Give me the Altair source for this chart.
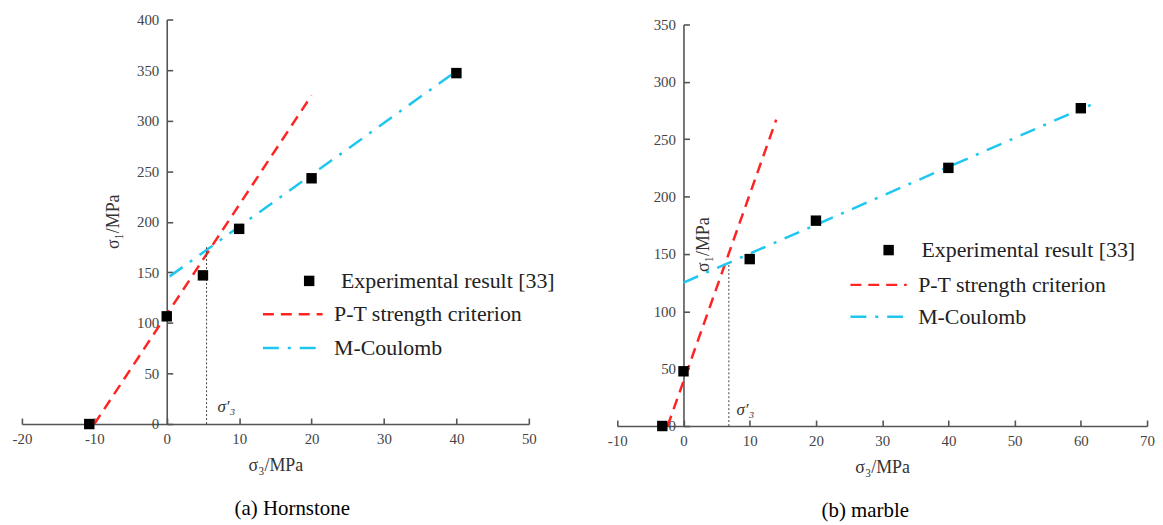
import altair as alt
import pandas as pd

SERIES = ["Experimental result [33]", "P-T strength criterion", "M-Coulomb"]
COLORS = ["#000000", "#ff2424", "#1fc6f0"]

# (a) Hornstone
a_exp_x = [-10.7, 0, 5, 10, 20, 40]
a_exp_y = [0, 106.5, 147, 193, 243, 347]
a_pt_x = [-10, 20]
a_pt_y = [0, 325]
a_mc_x = [0.4, 40]
a_mc_y = [146, 349]
a_cross_x = [5.5, 5.5]
a_cross_y = [0, 175]
a_note_x = [7.0]
a_note_y = [17]
a_xticks = [-20, -10, 0, 10, 20, 30, 40, 50]
a_yticks = [0, 50, 100, 150, 200, 250, 300, 350, 400]

# (b) marble
b_exp_x = [-3.2, 0, 10, 20, 40, 60]
b_exp_y = [0, 47.7, 145.5, 179, 225, 277]
b_pt_x = [-2.4, 14]
b_pt_y = [0, 267]
b_mc_x = [0, 61.5]
b_mc_y = [125, 280]
b_cross_x = [6.85, 6.85]
b_cross_y = [0, 141]
b_note_x = [8.0]
b_note_y = [14]
b_xticks = [-10, 0, 10, 20, 30, 40, 50, 60, 70]
b_yticks = [0, 50, 100, 150, 200, 250, 300, 350]

FONT = "Liberation Serif, Times New Roman, serif"
PT_DASH = [11, 7]
MC_DASH = [16, 9, 3, 9]
LINE_SYMBOL = "M-1,0H5"   # long horizontal legend stroke starting at the entry's left edge
EXP, PT, MC = SERIES


def panel(exp_x, exp_y, pt_x, pt_y, mc_x, mc_y, cross_x, cross_y, note_x, note_y,
          xticks, yticks, width, height, yoffset, ytitle_x, ytitle_y,
          leg1, leg2, caption, cap_dx):
    exp_df = pd.DataFrame({"x": exp_x, "y": exp_y, "s": EXP})
    line_df = pd.concat([
        pd.DataFrame({"x": pt_x, "y": pt_y, "s": PT}),
        pd.DataFrame({"x": mc_x, "y": mc_y, "s": MC}),
    ])
    cross_df = pd.DataFrame({"x": cross_x, "y": cross_y})
    note_df = pd.DataFrame({"x": note_x, "y": note_y, "t": ["σ′₃"]})

    xs = alt.Scale(domain=[xticks[0], xticks[-1]], nice=False, zero=False)
    ys = alt.Scale(domain=[yticks[0], yticks[-1]], nice=False, zero=False)
    common = dict(grid=False, labelExpr="datum.value + ''",
                  domainColor="#555", domainWidth=1.6, tickColor="#555", tickWidth=1.6,
                  tickSize={"expr": "-6"}, labelPadding=14,
                  labelFont=FONT, labelFontSize=15, labelColor="#444",
                  titleFont=FONT, titleFontSize=18, titleFontWeight="normal",
                  titleColor="#333", labelFlush=False)
    xaxis = alt.Axis(values=xticks, title="σ₃/MPa", titlePadding=10, **common)
    yaxis = alt.Axis(values=yticks, title="σ₁/MPa", offset=yoffset,
                     titleX=ytitle_x, titleY=ytitle_y,
                     titleAngle=270, titleAlign="center", titleBaseline="middle", **common)
    x = alt.X("x:Q", scale=xs, axis=xaxis)
    y = alt.Y("y:Q", scale=ys, axis=yaxis)

    legend_pts = alt.Legend(orient="none", legendX=leg1[0], legendY=leg1[1], title=None,
                            labelFont=FONT, labelFontSize=22, labelColor="#222", labelLimit=0,
                            symbolType="square", symbolSize=110, symbolFillColor="#000",
                            symbolStrokeWidth=0, labelOffset=leg1[2], padding=0)
    legend_lines = alt.Legend(orient="none", legendX=leg2[0], legendY=leg2[1], title=None,
                              labelFont=FONT, labelFontSize=22, labelColor="#222", labelLimit=0,
                              symbolType=LINE_SYMBOL, symbolSize=leg2[4], symbolStrokeWidth=2.5,
                              labelOffset=leg2[3], rowPadding=leg2[2], padding=0)

    lines = alt.Chart(line_df).mark_line(strokeWidth=2.5).encode(
        x=x, y=y,
        color=alt.Color("s:N", scale=alt.Scale(domain=[PT, MC], range=COLORS[1:]), legend=legend_lines),
        strokeDash=alt.StrokeDash("s:N", scale=alt.Scale(domain=[PT, MC], range=[PT_DASH, MC_DASH]),
                                  legend=legend_lines),
    )
    cross = alt.Chart(cross_df).mark_line(strokeDash=[2, 2], strokeWidth=1, color="#444").encode(x=x, y=y)
    pts = alt.Chart(exp_df).mark_point(filled=True, size=110, opacity=1, color=COLORS[0]).encode(
        x=x, y=y,
        shape=alt.Shape("s:N", scale=alt.Scale(domain=[EXP], range=["square"]), legend=legend_pts),
    )
    note = alt.Chart(note_df).mark_text(align="left", baseline="middle", font=FONT, fontSize=17,
                                        fontStyle="italic", color="#333").encode(x=x, y=y, text="t:N")
    return alt.layer(lines, cross, pts, note).properties(
        width=width, height=height,
        title=alt.Title(caption, orient="bottom", font=FONT, fontSize=21, fontWeight="normal",
                        color="#000", offset=24, dx=cap_dx, anchor="middle"),
    )


left = panel(a_exp_x, a_exp_y, a_pt_x, a_pt_y, a_mc_x, a_mc_y, a_cross_x, a_cross_y,
             a_note_x, a_note_y, a_xticks, a_yticks, 510, 407, -145.7, -54, 203,
             (278, 252, 21), (241, 285, 11, 50, 400), "(a) Hornstone", 17)
right = panel(b_exp_x, b_exp_y, b_pt_x, b_pt_y, b_mc_x, b_mc_y, b_cross_x, b_cross_y,
              b_note_x, b_note_y, b_xticks, b_yticks, 533, 404, -66.6, 20, 221,
              (262, 221, 22), (233, 256, 10, 47.7, 356), "(b) marble", -17)

# invisible spacer that lowers panel (b) a few pixels, as in the reference
spacer = alt.Chart(pd.DataFrame({"v": [0]})).mark_point(opacity=0).encode(
    x=alt.X("v:Q", axis=None), y=alt.Y("v:Q", axis=None)
).properties(width=533, height=5)
right_col = alt.vconcat(spacer, right, spacing=0, bounds="flush")

chart = alt.hconcat(left, right_col, spacing=89, bounds="flush").resolve_scale(
    color="independent", strokeDash="independent", shape="independent",
    x="independent", y="independent",
).resolve_legend(
    color="independent", strokeDash="independent", shape="independent",
).properties(
    padding={"left": 4, "top": 3, "right": 0, "bottom": 0}
).configure_view(stroke=None)

chart.save("out.html", embed_options={"renderer": "svg", "actions": False})
